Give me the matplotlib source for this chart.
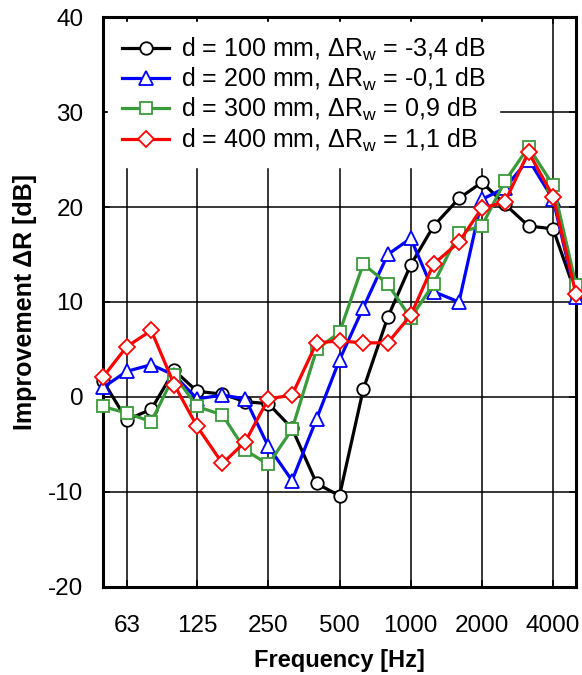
import matplotlib
matplotlib.use("Agg")
from matplotlib import pyplot as plt
from matplotlib.ticker import FixedLocator, FixedFormatter, NullLocator

plt.rcParams['font.family'] = ['Liberation Sans', 'DejaVu Sans']
plt.rcParams['mathtext.fontset'] = 'custom'
plt.rcParams['mathtext.rm'] = 'Liberation Sans'
plt.rcParams['axes.unicode_minus'] = False

# third-octave band centre frequencies
freqs = [50, 63, 80, 100, 125, 160, 200, 250, 315, 400, 500,
         630, 800, 1000, 1250, 1600, 2000, 2500, 3150, 4000, 5000]

d100 = [1.7, -2.4, -1.3, 2.8, 0.6, 0.3, -0.5, -0.7, -3.3, -9.1, -10.4,
        0.8, 8.4, 13.9, 18.0, 20.9, 22.6, 20.3, 18.0, 17.7, 10.8]
d200 = [1.0, 2.7, 3.4, 2.3, -0.2, 0.2, -0.2, -5.2, -8.8, -2.3, 3.9,
        9.4, 15.0, 16.7, 11.1, 10.0, 20.8, 22.0, 25.0, 20.8, 10.5]
d300 = [-1.0, -1.7, -2.6, 2.3, -1.0, -1.9, -5.6, -7.1, -3.4, 5.0, 6.8,
        14.0, 11.9, 8.3, 11.9, 17.3, 18.0, 22.7, 26.3, 22.3, 11.8]
d400 = [2.1, 5.3, 7.0, 1.3, -3.1, -7.0, -4.7, -0.2, 0.2, 5.7, 5.9,
        5.7, 5.7, 8.6, 14.0, 16.3, 19.9, 20.5, 25.8, 21.1, 10.8]

labels = ["d = 100 mm, ΔR$_\\mathrm{w}$ = -3,4 dB",
          "d = 200 mm, ΔR$_\\mathrm{w}$ = -0,1 dB",
          "d = 300 mm, ΔR$_\\mathrm{w}$ = 0,9 dB",
          "d = 400 mm, ΔR$_\\mathrm{w}$ = 1,1 dB"]
colors = ['black', '#0000ff', '#3a9b3a', '#ff0000']
markers = ['o', '^', 's', 'D']
msizes = [9, 10, 8.5, 8]

xticks = [63, 125, 250, 500, 1000, 2000, 4000]
xticklabels = ['63', '125', '250', '500', '1000', '2000', '4000']

fig = plt.figure(figsize=(5.82, 6.75), dpi=100)
ax = fig.add_axes([0.177, 0.1304, 0.8127, 0.8444])

for ys, c, m, ms, lab in zip([d100, d200, d300, d400], colors, markers, msizes, labels):
    ax.plot(freqs, ys, color=c, marker=m, markersize=ms, markerfacecolor='white',
            markeredgecolor=c, markeredgewidth=1.3, linewidth=2.3, label=lab,
            clip_on=False, zorder=3)

ax.set_xscale('log')
ax.set_xlim(50, 5000)
ax.set_ylim(-20, 40)
ax.xaxis.set_major_locator(FixedLocator(xticks))
ax.xaxis.set_major_formatter(FixedFormatter(xticklabels))
ax.xaxis.set_minor_locator(NullLocator())
ax.set_yticks([-20, -10, 0, 10, 20, 30, 40])
ax.grid(True, color='black', linewidth=1.1)
ax.tick_params(direction='in', length=5, width=1.1, labelsize=17.5,
               top=True, right=True)
ax.tick_params(axis='x', pad=20)
ax.tick_params(axis='y', pad=14)
for s in ax.spines.values():
    s.set_linewidth(2.2)

ax.set_xlabel('Frequency [Hz]', fontsize=17, fontweight='bold', labelpad=9)
ax.set_ylabel('Improvement ΔR [dB]', fontsize=18, fontweight='bold', labelpad=8)

leg = ax.legend(loc='upper left', fontsize=18, frameon=True, fancybox=False,
                edgecolor='white', framealpha=1, handlelength=1.9,
                handletextpad=0.45, labelspacing=0.12, borderaxespad=0.2,
                borderpad=0.55)
leg.set_zorder(5)

fig.savefig('out.png', dpi=100)
